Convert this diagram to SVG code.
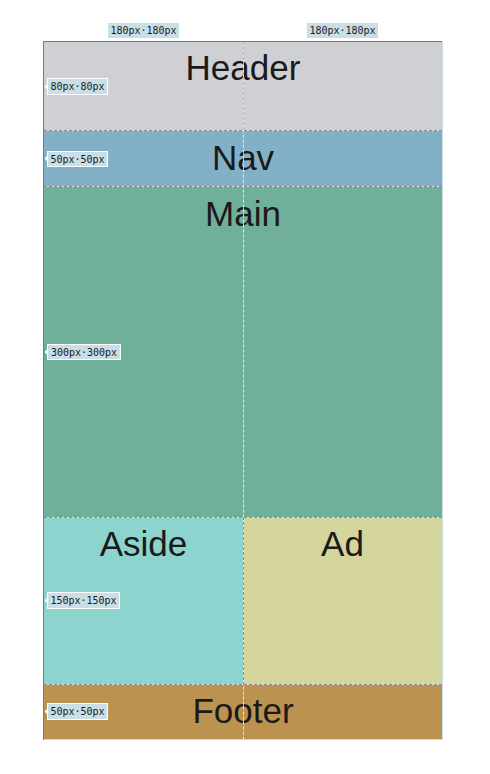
<svg xmlns="http://www.w3.org/2000/svg" width="490" height="774" viewBox="0 0 490 774">
  <style>
    .area-label { font-family: "Liberation Sans", Arial, sans-serif; font-size: 35px; fill: #1a1a1a; text-anchor: middle; }
    .badge { fill: #c9dee7; }
    .badge-row { fill: #c9dee7; stroke: #ffffff; stroke-width: 1; }
    .badge-text { font-family: "DejaVu Sans Mono", monospace; font-size: 10px; fill: #1a1a1a; text-anchor: middle; }
    .hline-base { stroke: #e6e6e6; stroke-width: 1; }
    .hline { stroke: #8f8f8f; stroke-width: 1; stroke-dasharray: 3 2; }
    .vline-base { stroke: #e4eef2; stroke-width: 1; }
    .vline { stroke: #a3bfcc; stroke-width: 1; stroke-dasharray: 3 2; }
    .vline-split { stroke: #8f8f8f; stroke-width: 1; stroke-dasharray: 3 2; }
  </style>

  <rect width="490" height="774" fill="#ffffff"/>

  <!-- grid areas -->
  <g id="header"><rect x="44" y="41" width="398" height="89" fill="#cfd0d4"/><text class="area-label" x="243" y="80">Header</text></g>
  <g id="nav"><rect x="44" y="130" width="398" height="56" fill="#82b0c6"/><text class="area-label" x="243" y="170">Nav</text></g>
  <g id="main"><rect x="44" y="186" width="398" height="331" fill="#70b09a"/><text class="area-label" x="243" y="226">Main</text></g>
  <g id="aside"><rect x="44" y="517" width="199" height="167" fill="#8dd3ce"/><text class="area-label" x="143.5" y="556">Aside</text></g>
  <g id="ad"><rect x="243" y="517" width="199" height="167" fill="#d5d59e"/><text class="area-label" x="342.5" y="556">Ad</text></g>
  <g id="footer"><rect x="44" y="684" width="398" height="55" fill="#bc9250"/><text class="area-label" x="243" y="723">Footer</text></g>

  <!-- grid lines -->
  <g id="grid-lines">
    <line class="hline-base" x1="44" y1="130.5" x2="442" y2="130.5"/><line class="hline" x1="44" y1="130.5" x2="442" y2="130.5"/>
    <line class="hline-base" x1="44" y1="186.5" x2="442" y2="186.5"/><line class="hline" x1="44" y1="186.5" x2="442" y2="186.5"/>
    <line class="hline-base" x1="44" y1="517.5" x2="442" y2="517.5"/><line class="hline" x1="44" y1="517.5" x2="442" y2="517.5"/>
    <line class="hline-base" x1="44" y1="684.5" x2="442" y2="684.5"/><line class="hline" x1="44" y1="684.5" x2="442" y2="684.5"/>
    <line class="vline-base" x1="243.5" y1="42" x2="243.5" y2="739"/>
    <line class="vline" x1="243.5" y1="42" x2="243.5" y2="517"/>
    <line class="vline-split" x1="243.5" y1="517" x2="243.5" y2="684"/>
    <line class="vline" x1="243.5" y1="684" x2="243.5" y2="739"/>
    <line x1="43" y1="41.5" x2="442" y2="41.5" stroke="#7a7a7a" stroke-width="1"/>
    <line x1="43.5" y1="41" x2="43.5" y2="740" stroke="#7a7a7a" stroke-width="1"/>
    <line x1="442.5" y1="41" x2="442.5" y2="740" stroke="#c9dee7" stroke-width="1"/>
    <line x1="44" y1="739.5" x2="443" y2="739.5" stroke="#c9dee7" stroke-width="1"/>
  </g>

  <!-- column size badges -->
  <g id="col-badges">
    <rect class="badge" x="108" y="23" width="71" height="15"/>
    <path d="M140.5 38 L143.5 41 L146.5 38 Z" fill="#ffffff"/>
    <text class="badge-text" x="143.5" y="34">180px·180px</text>
    <rect class="badge" x="307" y="23" width="71" height="15"/>
    <path d="M339.5 38 L342.5 41 L345.5 38 Z" fill="#ffffff"/>
    <text class="badge-text" x="342.5" y="34">180px·180px</text>
  </g>

  <!-- row size badges -->
  <g id="row-badges">
    <path d="M47.5 83.5 L44.5 86.5 L47.5 89.5 Z" fill="#ffffff"/>
    <rect class="badge-row" x="47.5" y="78.5" width="60" height="16"/>
    <text class="badge-text" x="77.5" y="90">80px·80px</text>

    <path d="M47.5 155.5 L44.5 158.5 L47.5 161.5 Z" fill="#ffffff"/>
    <rect class="badge-row" x="47.5" y="151.5" width="60" height="15"/>
    <text class="badge-text" x="77.5" y="162.5">50px·50px</text>

    <path d="M47.5 349 L44.5 352 L47.5 355 Z" fill="#ffffff"/>
    <rect class="badge-row" x="47.5" y="344.5" width="73" height="15"/>
    <text class="badge-text" x="84" y="355.5">300px·300px</text>

    <path d="M47.5 597.5 L44.5 600.5 L47.5 603.5 Z" fill="#ffffff"/>
    <rect class="badge-row" x="47.5" y="592.5" width="72" height="16"/>
    <text class="badge-text" x="83.5" y="604">150px·150px</text>

    <path d="M47.5 708.5 L44.5 711.5 L47.5 714.5 Z" fill="#ffffff"/>
    <rect class="badge-row" x="47.5" y="703.5" width="60" height="16"/>
    <text class="badge-text" x="77.5" y="715">50px·50px</text>
  </g>
</svg>
